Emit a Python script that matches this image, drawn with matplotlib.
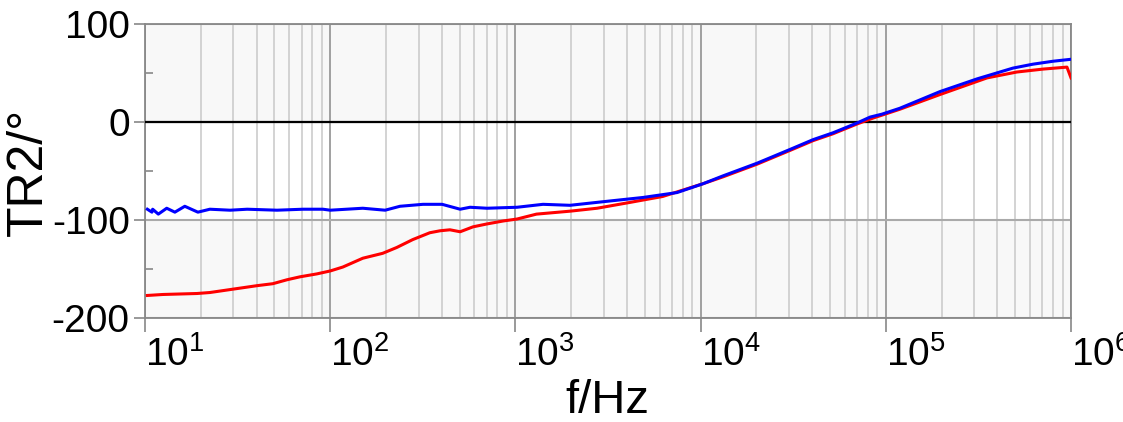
import numpy as np
import matplotlib
matplotlib.use('Agg')
import matplotlib.pyplot as plt
from matplotlib.ticker import LogLocator, FixedLocator, NullFormatter

plt.rcParams['font.family'] = ['Liberation Sans', 'DejaVu Sans']
plt.rcParams['mathtext.fontset'] = 'custom'
plt.rcParams['mathtext.rm'] = 'Liberation Sans'
plt.rcParams['axes.unicode_minus'] = False

# 蓝线数据 (频率 Hz, 相位 °)
f_blue = [10.3, 10.9, 11.0, 11.8, 13.1, 14.5, 16.4, 19.3, 22.4, 28.8, 35.6, 51.6,
          71.3, 91.4, 100, 150, 198, 238, 317, 402, 503, 569, 703, 1021, 1410,
          1972, 2761, 4890, 7460, 10300, 13200, 20200, 30400, 40500, 51900, 70000,
          82200, 95300, 119000, 196000, 311000, 486000, 623000, 800000, 1000000]
tr2_blue = [-89, -92, -89, -94, -88, -92, -86, -92, -89, -90, -89, -90,
            -89, -89, -90, -88, -90, -86, -84, -84, -89, -87, -88, -87, -84,
            -85, -82, -77, -72, -63, -55, -42, -28, -18, -11, -1,
            5, 8, 14, 31, 44, 55, 59, 62, 64]

# 红线数据
f_red = [10.3, 12.5, 19.1, 22.4, 28.8, 40.3, 49, 58.4, 68.6, 84.7, 100, 117, 150,
         192, 229, 279, 345, 392, 443, 503, 590, 703, 860, 1021, 1300, 1972, 2761,
         4170, 6240, 10300, 13200, 20200, 30400, 40500, 51900, 70000, 85300,
         119000, 196000, 352000, 510000, 707000, 951000, 1000000]
tr2_red = [-177, -176, -175, -174, -171, -167, -165, -161, -158, -155, -152, -148, -139,
           -134, -128, -120, -113, -111, -110, -112, -107, -104, -101, -99, -94, -91, -88,
           -82, -76, -63, -56, -43, -29, -19, -12, -2, 4,
           13, 28, 45, 51, 54, 56, 45]

x_ticks = [1e1, 1e2, 1e3, 1e4, 1e5, 1e6]
x_labels = [r'$\mathregular{10^{%d}}$' % i for i in range(1, 7)]
y_ticks = [-200, -100, 0, 100]

fig = plt.figure(figsize=(11.23, 4.22), dpi=100)
ax = fig.add_axes([145 / 1123, 1 - 318 / 422, 926 / 1123, 294 / 422])

# 交替灰白背景带
ax.axhspan(0, 100, color='#f8f8f8', zorder=0)
ax.axhspan(-200, -100, color='#f8f8f8', zorder=0)

ax.plot(f_red, tr2_red, color='#ff0000', lw=2.2, zorder=4)
ax.plot(f_blue, tr2_blue, color='#0000ff', lw=2.2, zorder=5)
ax.axhline(0, color='black', lw=1.6, zorder=3)

ax.set_xscale('log')
ax.set_xlim(10, 1e6)
ax.set_ylim(-200, 100)

ax.xaxis.set_major_locator(FixedLocator(x_ticks))
ax.set_xticklabels(x_labels, ha='left')
ax.xaxis.set_minor_locator(LogLocator(base=10, subs=np.arange(2, 10)))
ax.xaxis.set_minor_formatter(NullFormatter())
ax.set_yticks(y_ticks)
ax.set_yticks([-150, -50, 50], minor=True)

ax.grid(True, which='major', axis='x', color='#999999', lw=1.3, zorder=1)
ax.grid(True, which='minor', axis='x', color='#d0d0d0', lw=1.3, zorder=1)
ax.grid(True, which='major', axis='y', color='#aaaaaa', lw=1.5, zorder=1)
ax.set_axisbelow(True)

ax.tick_params(axis='x', which='major', direction='out', length=10, width=1.2,
               color='#888888', labelsize=28, pad=3)
ax.tick_params(axis='x', which='minor', length=0)
ax.tick_params(axis='y', which='major', direction='out', length=8, width=1.2,
               color='#888888', labelsize=28, pad=3)
ax.tick_params(axis='y', which='minor', direction='in', length=6, width=1.2,
               color='#888888')

for s in ax.spines.values():
    s.set_color('#888888')
    s.set_linewidth(1.3)

fig.text(29 / 1123, 1 - 172 / 422, 'TR2/°', rotation=90, ha='center', va='center',
         fontsize=36)
fig.text(607 / 1123, 1 - 413 / 422, 'f/Hz', ha='center', va='baseline', fontsize=34)

fig.savefig('out.png', dpi=100)
